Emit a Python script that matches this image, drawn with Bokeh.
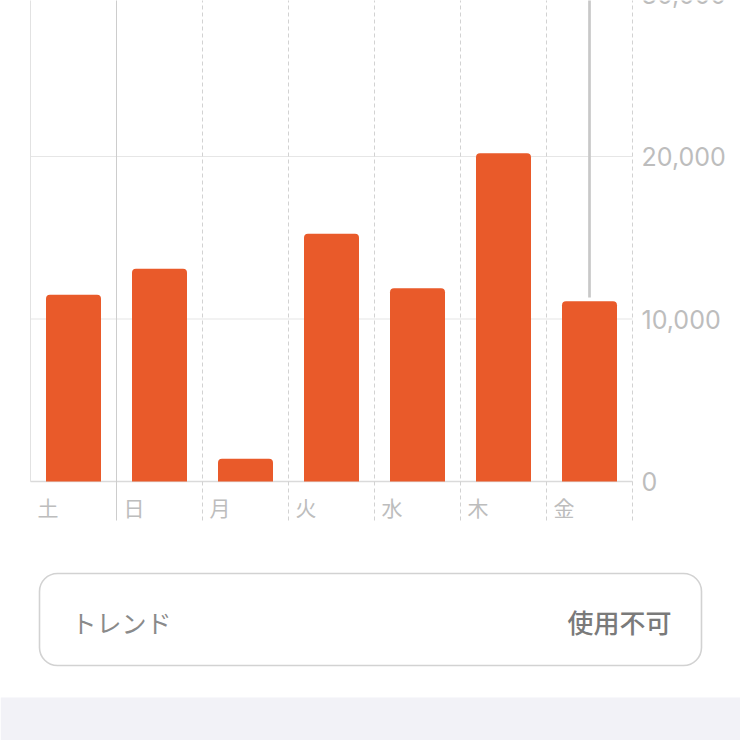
from bokeh.plotting import figure
from bokeh.models import Range1d, BoxAnnotation, Label, ColumnDataSource
from bokeh.core.properties import value
from bokeh.embed import file_html
from bokeh.resources import INLINE

# ---- data ----
days = ["土", "日", "月", "火", "水", "木", "金"]
calories = [11500, 13100, 1400, 15250, 11900, 20200, 11100]
selected_index = 6
y_ticks = [0, 10000, 20000, 30000]
trend_label = "トレンド"
trend_value = "使用不可"

# ---- styling ----
BAR = "#E95A2A"
LABEL_GRAY = "#BDBDBD"
GRID = "#E6E6E6"
VGRID = "#D2D2D2"
CJK = "Noto Sans CJK JP"
CJK_MED = "'Noto Sans CJK JP Medium', 'Noto Sans CJK JP'"

W = H = 740
SLOT = 86.0                    # px per day slot
UNIT = 10000 / 162.5           # value per px
X0_PX, Y0_PX = 30, 481         # screen position of (0, 0)


def px_x(px):
    return (px - X0_PX) / SLOT


def px_y(py):
    return (Y0_PX - py) * UNIT


p = figure(width=W, height=H, output_backend="svg", toolbar_location=None,
           x_range=Range1d(px_x(0), px_x(W)), y_range=Range1d(px_y(H), px_y(0)),
           min_border=0, outline_line_color=None,
           background_fill_color="white", border_fill_color="white")
p.axis.visible = False
p.grid.visible = False

n = len(days)
top_v = px_y(-10)
bottom_v = px_y(520)

# horizontal grid lines
p.segment(x0=[0] * len(y_ticks), x1=[n] * len(y_ticks), y0=y_ticks, y1=y_ticks,
          line_color=GRID, line_width=1.2)
p.segment(x0=[0], x1=[n], y0=[0], y1=[0], line_color="#DADADA", line_width=1.5)

# vertical separators
p.segment(x0=[0], x1=[0], y0=[0], y1=[top_v], line_color="#E2E2E2", line_width=1)
p.segment(x0=[1], x1=[1], y0=[bottom_v], y1=[top_v], line_color="#CDCDCD", line_width=1)
xs = list(range(2, n + 1))
p.segment(x0=xs, x1=xs, y0=[bottom_v] * len(xs), y1=[top_v] * len(xs),
          line_color=VGRID, line_width=1, line_dash="4 3")

# selection indicator
sx = selected_index + 0.5
p.segment(x0=[sx], x1=[sx], y0=[calories[selected_index] + 3.6 * UNIT], y1=[top_v],
          line_color="#C8C8C8", line_width=2.7)

# bars
src = ColumnDataSource(dict(x=[i + 0.5 for i in range(n)], top=calories, day=days,
                            lx=[i + 7 / SLOT for i in range(n)], ly=[-25 * UNIT] * n))
p.vbar(x="x", top="top", bottom=0, width=55 / SLOT, source=src,
       fill_color=BAR, line_color=None, border_radius=(4, 4, 0, 0))

# day labels
p.text(x="lx", y="ly", text="day", source=src, text_font=value(CJK),
       text_font_size="21px", text_color=LABEL_GRAY, text_align="left",
       text_baseline="middle")

# y tick labels (right side)
tick_src = ColumnDataSource(dict(y=y_ticks, label=[f"{t:,}" for t in y_ticks],
                                 x=[n + 9 / SLOT] * len(y_ticks)))
p.text(x="x", y="y", text="label", source=tick_src, text_font=value("Inter"),
       text_font_size="25px", text_color=LABEL_GRAY, text_align="left",
       text_baseline="middle")

# ---- trend card + bottom band ----
p.add_layout(BoxAnnotation(left=px_x(0), right=px_x(W), top=px_y(697), bottom=px_y(H),
                           fill_color="#F2F2F7", fill_alpha=1, line_color=None))
p.add_layout(BoxAnnotation(left=px_x(39), right=px_x(701), top=px_y(573), bottom=px_y(665),
                           fill_color="white", fill_alpha=1, line_color="#D2D2D2",
                           line_alpha=1, line_width=1.6, border_radius=18))
p.add_layout(Label(x=px_x(71), y=px_y(621), text=trend_label, text_font=CJK,
                   text_font_size="25px", text_color="#8A8A8A", text_align="left",
                   text_baseline="middle"))
p.add_layout(Label(x=px_x(671), y=px_y(621), text=trend_value, text_font=CJK_MED,
                   text_font_size="26px", text_color="#7A7A7A",
                   text_align="right", text_baseline="middle"))

open("out.html", "w").write(file_html(p, INLINE))
